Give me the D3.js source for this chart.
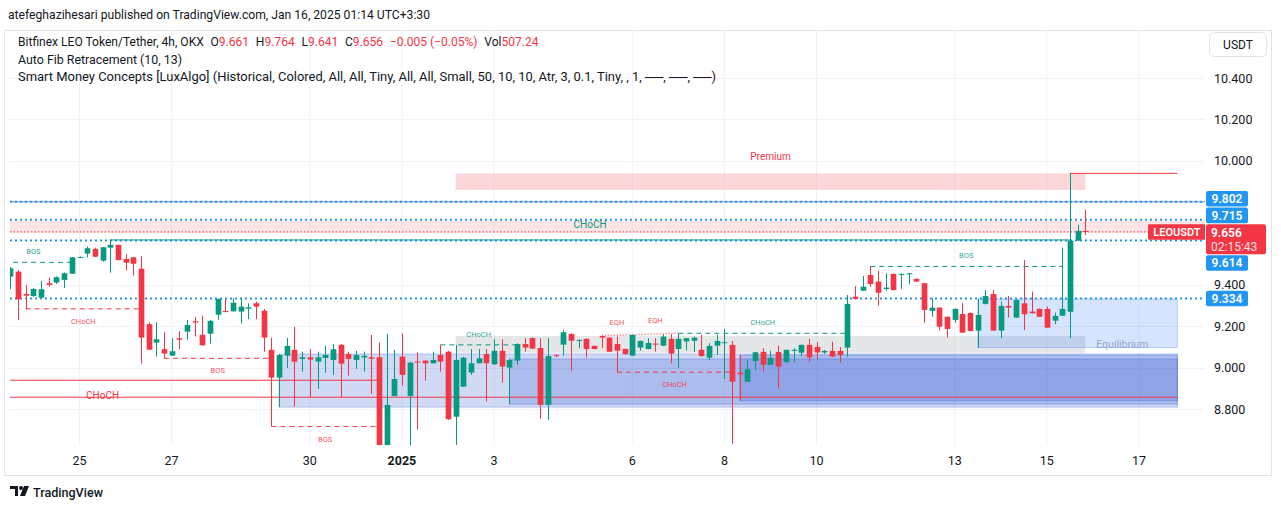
<!DOCTYPE html>
<html><head><meta charset="utf-8">
<script src="https://cdn.jsdelivr.net/npm/d3@7"></script>
<style>
body{margin:0;background:#fff;}
svg{display:block;font-family:Roboto,"Liberation Sans",sans-serif;}
</style>
</head><body>
<svg id="chart" width="1281" height="509"></svg>
<script>
// ---------------- DATA ----------------
const firstBarUtc = Date.UTC(2024, 11, 23, 12); // 4h bars
const barHours = 4;
const opens = [9.440,9.464,9.356,9.346,9.338,9.408,9.411,9.424,9.454,9.533,
9.551,9.574,9.517,9.580,9.593,9.525,9.533,9.478,9.210,9.121,
9.089,9.058,9.142,9.174,9.224,9.159,9.164,9.256,9.274,9.272,
9.271,9.285,9.311,9.275,9.086,8.952,9.058,9.086,9.042,9.050,
9.029,9.047,9.037,9.110,9.065,9.037,9.049,9.050,9.050,8.620,
8.863,9.053,8.863,9.029,9.034,9.021,9.061,9.077,8.763,8.908,
8.976,9.021,9.066,9.016,9.081,9.000,9.034,9.114,9.143,9.095,
8.820,9.060,9.111,9.163,9.130,9.139,9.105,9.153,9.145,9.114,
9.090,9.058,9.097,9.090,9.116,9.106,9.139,9.090,9.127,9.130,
9.086,9.048,9.106,9.118,9.110,8.976,8.932,9.032,9.076,9.014,
9.076,9.027,9.082,9.072,9.110,9.100,9.073,9.081,9.081,9.097,
9.343,9.372,9.448,9.416,9.380,9.453,9.448,9.453,9.429,9.408,
9.274,9.290,9.246,9.230,9.259,9.264,9.179,9.308,9.356,9.179,
9.298,9.242,9.311,9.271,9.284,9.284,9.227,9.251,9.270,9.614,
9.661];
const highs = [9.487,9.472,9.400,9.385,9.419,9.435,9.441,9.460,9.535,9.537,
9.586,9.580,9.583,9.617,9.595,9.548,9.535,9.540,9.219,9.219,
9.171,9.142,9.176,9.230,9.245,9.251,9.230,9.334,9.332,9.336,
9.336,9.311,9.319,9.284,9.145,9.066,9.145,9.198,9.077,9.090,
9.077,9.106,9.114,9.114,9.077,9.081,9.077,9.158,9.121,9.163,
9.086,9.166,9.029,9.074,9.035,9.077,9.110,9.081,9.110,9.052,
9.090,9.090,9.090,9.137,9.137,9.042,9.117,9.142,9.146,9.142,
9.142,9.064,9.182,9.165,9.135,9.141,9.107,9.155,9.146,9.150,
9.093,9.159,9.131,9.142,9.142,9.161,9.161,9.166,9.143,9.150,
9.158,9.118,9.159,9.187,9.129,9.061,9.037,9.076,9.094,9.081,
9.106,9.087,9.094,9.112,9.139,9.123,9.085,9.125,9.099,9.351,
9.395,9.443,9.491,9.469,9.456,9.455,9.455,9.458,9.431,9.409,
9.335,9.291,9.247,9.286,9.311,9.267,9.332,9.375,9.375,9.319,
9.346,9.329,9.520,9.367,9.286,9.295,9.266,9.580,9.939,9.690,
9.764];
const lows = [9.379,9.230,9.282,9.342,9.337,9.391,9.404,9.384,9.453,9.530,
9.532,9.535,9.512,9.459,9.518,9.469,9.445,9.019,9.085,9.053,
9.045,9.056,9.089,9.134,9.150,9.107,9.116,9.232,9.267,9.271,
9.214,9.234,9.234,9.077,8.715,8.809,8.999,8.811,8.981,8.857,
8.897,8.976,8.965,8.857,8.961,8.994,8.981,8.873,8.600,8.600,
8.861,8.912,8.621,8.702,8.937,9.020,8.981,8.747,8.623,8.906,
8.965,9.020,8.836,9.013,8.927,8.823,9.013,9.077,9.090,8.752,
8.747,9.052,9.058,8.985,9.094,9.049,9.088,9.095,9.076,8.978,
9.061,9.056,9.082,9.088,9.077,9.105,9.021,8.999,9.083,9.076,
9.053,9.037,9.061,8.945,8.630,8.840,8.931,8.989,8.981,9.013,
8.898,9.023,9.027,9.054,9.029,9.040,9.066,9.050,9.024,9.053,
9.330,9.371,9.391,9.300,9.372,9.373,9.380,9.403,9.414,9.217,
9.246,9.179,9.145,9.217,9.168,9.175,9.097,9.305,9.177,9.142,
9.242,9.240,9.182,9.262,9.245,9.192,9.210,9.250,9.142,9.612,
9.641];
const closes = [9.480,9.330,9.348,9.380,9.379,9.400,9.437,9.456,9.533,9.535,
9.577,9.536,9.582,9.593,9.520,9.507,9.502,9.145,9.087,9.137,
9.068,9.079,9.135,9.206,9.218,9.108,9.226,9.332,9.269,9.314,
9.295,9.292,9.295,9.145,8.952,9.061,9.105,9.029,9.050,9.039,
9.050,9.061,9.089,9.019,9.042,9.061,9.057,9.043,8.620,8.820,
8.945,8.965,9.024,9.024,9.021,9.037,9.029,8.751,9.037,9.048,
9.021,9.045,9.021,9.081,9.005,9.037,9.114,9.097,9.092,8.820,
9.056,9.056,9.171,9.130,9.134,9.090,9.090,9.145,9.077,9.082,
9.066,9.158,9.129,9.119,9.113,9.150,9.068,9.139,9.142,9.145,
9.056,9.105,9.129,9.123,8.932,8.968,8.992,9.074,9.014,9.047,
9.005,9.086,9.086,9.110,9.049,9.073,9.081,9.054,9.061,9.308,
9.332,9.391,9.404,9.362,9.387,9.375,9.453,9.456,9.416,9.279,
9.290,9.198,9.187,9.284,9.169,9.177,9.255,9.346,9.179,9.298,
9.290,9.327,9.258,9.263,9.246,9.193,9.250,9.284,9.614,9.661,
9.656];

const priceTicks = [8.8, 9.0, 9.2, 9.4, 9.6, 9.8, 10.0, 10.2, 10.4];
const dateTicks = [[2024,11,25],[2024,11,27],[2024,11,30],[2025,0,1],[2025,0,3],[2025,0,6],[2025,0,8],[2025,0,10],[2025,0,13],[2025,0,15],[2025,0,17]];
const dateTickLabels = ["25","27","30","2025","3","6","8","10","13","15","17"];

// Auto Fib levels shown as dotted lines + axis badges
const fibLevels = [9.802, 9.715, 9.614, 9.334];
const lastPrice = 9.656;
const countdown = "02:15:43";

// Smart Money Concepts structure: [fromBar, toBar, price, side, scope, label]
const structures = [
  [-2, 8, 9.509, "bull", "internal", "BOS"],
  [2, 17, 9.284, "bear", "internal", "CHoCH"],
  [20, 34, 9.045, "bear", "internal", "BOS"],
  [34, 48, 8.715, "bear", "internal", "BOS"],
  [-24, 48, 8.939, "bear", "swing", "CHoCH"],
  [13, 138, 9.617, "bull", "swing", "CHoCH"],
  [56, 66, 9.110, "bull", "internal", "CHoCH"],
  [79, 94, 8.978, "bear", "internal", "CHoCH"],
  [87, 109, 9.166, "bull", "internal", "CHoCH"],
  [112, 137, 9.489, "bull", "internal", "BOS"]
];
// Equal highs: [fromBar, fromPrice, toBar, toPrice]
const equalHighs = [[77, 9.155, 81, 9.159], [81, 9.159, 87, 9.166]];
// Order blocks: [fromBar, bottom, top, scope]
const orderBlocks = [
  [35, 8.809, 9.066, "swing"],
  [65, 8.823, 9.042, "swing"],
  [95, 8.840, 9.061, "swing"],
  [126, 9.097, 9.332, "internal"]
];
const obEndBar = 152;
// Zones: [fromBar, toBar, bottom, top, name]
const zones = [[58, 140, 9.859, 9.939, "Premium"], [58, 140, 9.072, 9.153, "Equilibrium"]];
// trailing extremes: [fromBar, price]
const trailing = [[138, 9.939], [-30, 8.857]];
const pinkBand = [9.652, 9.710];
const fibBaseLine = 9.802;

// legend strings
const headerText = "atefeghazihesari published on TradingView.com, Jan 16, 2025 01:14 UTC+3:30";
const legendSegments = [["Bitfinex LEO Token/Tether, 4h, OKX", "t"], ["O", "t"], ["9.661", "v"], ["H", "t"], ["9.764", "v"],
 ["L", "t"], ["9.641", "v"], ["C", "t"], ["9.656", "v"], ["\u22120.005 (\u22120.05%)", "v"], ["Vol", "t"], ["507.24", "v"]];
const legendLine2 = "Auto Fib Retracement (10, 13)";
const legendLine3 = "Smart Money Concepts [LuxAlgo] (Historical, Colored, All, All, Tiny, All, All, Small, 50, 10, 10, Atr, 3, 0.1, Tiny, , 1, \u2500\u2500, \u2500\u2500, \u2500\u2500)";

// ---------------- LAYOUT ----------------
const W = 1281, H = 509;
const plot = {l: 10, r: 1205, t: 30, b: 445};
const bull = "#089981", bear = "#f23645", text = "#131722";
const svg = d3.select("#chart");

const barTime = i => new Date(firstBarUtc + i * barHours * 3600e3);
const x = d3.scaleUtc()
  .domain([new Date(Date.UTC(2024,11,25)), new Date(Date.UTC(2025,0,17))])
  .range([79.5, 1139]);
const y = d3.scaleLinear().domain([8.8, 10.4]).range([409, 78]);
const bx = i => x(barTime(i));
const barW = (bx(1) - bx(0)) * 0.74;

svg.append("rect").attr("width", W).attr("height", H).attr("fill", "#fff");

// header
svg.append("text").attr("x", 8).attr("y", 19).attr("font-size", 13).attr("fill", text)
  .attr("textLength", 422).attr("lengthAdjust", "spacingAndGlyphs").text(headerText);

// chart frame
svg.append("rect").attr("x", 4.5).attr("y", 30.5).attr("width", 1267).attr("height", 445)
  .attr("fill", "none").attr("stroke", "#e0e3eb");

const defs = svg.append("defs");
defs.append("clipPath").attr("id", "plotClip").append("rect")
  .attr("x", plot.l).attr("y", plot.t).attr("width", plot.r - plot.l).attr("height", plot.b - plot.t);

const g = svg.append("g").attr("clip-path", "url(#plotClip)");

// grid
const dates = dateTicks.map(d => new Date(Date.UTC(d[0], d[1], d[2])));
g.selectAll(".vg").data(dates).join("line")
  .attr("x1", d => x(d)).attr("x2", d => x(d)).attr("y1", plot.t).attr("y2", plot.b)
  .attr("stroke", "#f0f3fa").attr("stroke-width", 1);
g.selectAll(".hg").data(priceTicks).join("line")
  .attr("x1", plot.l).attr("x2", plot.r).attr("y1", d => Math.round(y(d)) + 0.5).attr("y2", d => Math.round(y(d)) + 0.5)
  .attr("stroke", "#f0f3fa");

// pink band
g.append("rect").attr("x", plot.l).attr("width", plot.r - plot.l)
  .attr("y", y(pinkBand[1])).attr("height", y(pinkBand[0]) - y(pinkBand[1]))
  .attr("fill", "rgba(242,54,69,0.13)");

// zones
zones.forEach(z => {
  const isP = z[4] === "Premium";
  g.append("rect").attr("x", bx(z[0])).attr("width", bx(z[1]) - bx(z[0]))
    .attr("y", y(z[3])).attr("height", y(z[2]) - y(z[3]))
    .attr("fill", isP ? "rgba(242,54,69,0.2)" : "rgba(135,139,148,0.22)");
  if (isP) {
    g.append("text").attr("x", (bx(z[0]) + bx(z[1])) / 2).attr("y", y(z[3]) - 13)
      .attr("text-anchor", "middle").attr("font-size", 10).attr("fill", bear).text(z[4]);
  } else {
    g.append("text").attr("x", bx(z[1]) + 11).attr("y", (y(z[2]) + y(z[3])) / 2 + 4)
      .attr("font-size", 10.5).attr("fill", "#b2b5be").text(z[4]);
  }
});

// order blocks
orderBlocks.forEach(o => {
  const sw = o[3] === "swing";
  g.append("rect").attr("x", bx(o[0])).attr("width", bx(obEndBar) - bx(o[0]))
    .attr("y", y(o[2])).attr("height", y(o[1]) - y(o[2]))
    .attr("fill", sw ? "rgba(24,72,204,0.2)" : "rgba(49,121,245,0.2)")
    .attr("stroke", sw ? "rgba(24,72,204,0.25)" : "rgba(49,121,245,0.3)");
});

// trailing extremes
trailing.forEach(t => {
  g.append("line").attr("x1", bx(t[0])).attr("x2", bx(obEndBar))
    .attr("y1", y(t[1])).attr("y2", y(t[1])).attr("stroke", bear).attr("stroke-width", 1);
});

// fib base line + dotted fib lines
g.append("line").attr("x1", plot.l).attr("x2", plot.r).attr("y1", y(fibBaseLine)).attr("y2", y(fibBaseLine))
  .attr("stroke", "#7e8bbf").attr("stroke-width", 1);
g.selectAll(".fib").data(fibLevels).join("line")
  .attr("x1", plot.l).attr("x2", plot.r).attr("y1", d => y(d)).attr("y2", d => y(d))
  .attr("stroke", "#2196f3").attr("stroke-width", 2).attr("stroke-dasharray", "2,3");

// structures
structures.forEach(s => {
  const col = s[3] === "bull" ? bull : bear;
  const internal = s[4] === "internal";
  const yy = y(s[2]);
  g.append("line").attr("x1", bx(s[0])).attr("x2", bx(s[1])).attr("y1", yy).attr("y2", yy)
    .attr("stroke", col).attr("stroke-width", 1).attr("stroke-dasharray", internal ? "5,4" : null);
  const off = internal ? 12 : 16;
  g.append("text").attr("x", (bx(s[0]) + bx(s[1])) / 2)
    .attr("y", s[3] === "bull" ? yy - off + 4 : yy + off + 3)
    .attr("text-anchor", "middle").attr("font-size", internal ? 7.5 : 10)
    .attr("fill", col).attr("opacity", internal ? 0.85 : 1).text(s[5]);
});
equalHighs.forEach(e => {
  g.append("line").attr("x1", bx(e[0])).attr("x2", bx(e[2])).attr("y1", y(e[1])).attr("y2", y(e[3]))
    .attr("stroke", "rgba(242,54,69,0.55)").attr("stroke-width", 1.5).attr("stroke-dasharray", "1.5,1.5");
  g.append("text").attr("x", (bx(e[0]) + bx(e[2])) / 2).attr("y", Math.min(y(e[1]), y(e[3])) - 10)
    .attr("text-anchor", "middle").attr("font-size", 7.5).attr("fill", bear).attr("opacity", 0.85).text("EQH");
});

// current price line
g.append("line").attr("x1", plot.l).attr("x2", plot.r).attr("y1", y(lastPrice)).attr("y2", y(lastPrice))
  .attr("stroke", bear).attr("stroke-width", 1).attr("stroke-dasharray", "1.5,2");

// candles
const idx = d3.range(opens.length);
const cg = g.append("g");
cg.selectAll(".wick").data(idx).join("line")
  .attr("x1", i => Math.round(bx(i)) + 0.5).attr("x2", i => Math.round(bx(i)) + 0.5)
  .attr("y1", i => y(highs[i])).attr("y2", i => y(lows[i]))
  .attr("stroke", i => closes[i] >= opens[i] ? bull : bear);
cg.selectAll(".body").data(idx).join("rect")
  .attr("x", i => Math.round(bx(i)) + 0.5 - barW / 2).attr("width", barW)
  .attr("y", i => y(Math.max(opens[i], closes[i])))
  .attr("height", i => Math.max(1, Math.abs(y(opens[i]) - y(closes[i]))))
  .attr("fill", i => closes[i] >= opens[i] ? bull : bear);

// symbol label
g.append("rect").attr("x", 1148).attr("y", y(lastPrice) - 7.7).attr("width", 60).attr("height", 15.5)
  .attr("fill", bear).attr("rx", 1);
svg.append("text").attr("x", 1177).attr("y", y(lastPrice) + 4).attr("text-anchor", "middle")
  .attr("font-size", 11).attr("font-weight", 600).attr("fill", "#fff").text("LEOUSDT");

// time axis
svg.selectAll(".tl").data(dates).join("text")
  .attr("x", d => x(d)).attr("y", 465).attr("text-anchor", "middle")
  .attr("font-size", 12.5).attr("fill", text)
  .attr("font-weight", (d, i) => dateTickLabels[i] === "2025" ? 700 : 400)
  .text((d, i) => dateTickLabels[i]);

// badges with collision layout
const bh = 15.6, gap = 1;
const redTop = y(lastPrice) - 7.7, redBot = redTop + 30;
const above = fibLevels.filter(v => v > lastPrice).sort((a, b) => a - b);
const below = fibLevels.filter(v => v < lastPrice).sort((a, b) => b - a);
const badges = [];
let limit = redTop - gap;
above.forEach(v => { let bot = Math.min(y(v) + bh / 2, limit); badges.push([v, bot - bh]); limit = bot - bh - gap; });
limit = redBot + gap;
below.forEach(v => { let top = Math.max(y(v) - bh / 2, limit); badges.push([v, top]); limit = top + bh + gap; });
const occupied = badges.map(b => [b[1], b[1] + bh]).concat([[redTop, redBot]]);

// price axis (labels hidden where a badge covers them)
const visibleTicks = priceTicks.filter(v => {
  const c = y(v);
  return !occupied.some(o => c + 5 > o[0] && c - 5 < o[1]);
});
svg.selectAll(".pl").data(visibleTicks).join("text")
  .attr("x", 1214).attr("y", d => y(d) + 4.5).attr("font-size", 12.5).attr("fill", text)
  .text(d => d.toFixed(3));

// USDT button
svg.append("rect").attr("x", 1209.5).attr("y", 32.5).attr("width", 57).attr("height", 24).attr("rx", 5)
  .attr("fill", "#fff").attr("stroke", "#e0e3eb");
svg.append("text").attr("x", 1238).attr("y", 49).attr("text-anchor", "middle").attr("font-size", 12)
  .attr("fill", text).text("USDT");

badges.forEach(b => {
  svg.append("rect").attr("x", 1206).attr("y", b[1]).attr("width", 42).attr("height", bh).attr("rx", 2).attr("fill", "#2196f3");
  svg.append("text").attr("x", 1227).attr("y", b[1] + 12).attr("text-anchor", "middle").attr("font-size", 12)
    .attr("font-weight", 600).attr("fill", "#fff").text(b[0].toFixed(3));
});
svg.append("rect").attr("x", 1206).attr("y", redTop).attr("width", 60).attr("height", 30).attr("rx", 2).attr("fill", bear);
svg.append("text").attr("x", 1211).attr("y", redTop + 12.5).attr("font-size", 12).attr("font-weight", 600).attr("fill", "#fff").text(lastPrice.toFixed(3));
svg.append("text").attr("x", 1211).attr("y", redTop + 26.5).attr("font-size", 12).attr("fill", "#fff").attr("opacity", 0.85).text(countdown);

// legend line 1: separate text pieces laid out one after another, scaled to the target width
const legFont = 12.5, targetW = 521;
const pieces = legendSegments.map((p, i) => svg.append("text").attr("y", 46).attr("font-size", legFont)
  .attr("fill", p[1] === "v" ? bear : text).text(p[0]));
const gapAfter = legendSegments.map((p, i) => {
  const nxt = legendSegments[i + 1];
  if (!nxt) return 0;
  return (nxt[1] === "v" && p[1] === "t" && p[0].length <= 3) ? 0 : 7;
});
let total = 0;
pieces.forEach((t, i) => { total += t.node().getComputedTextLength() + gapAfter[i]; });
const k = targetW / total;
let cx = 18;
pieces.forEach((t, i) => {
  t.attr("font-size", legFont * k).attr("x", cx);
  cx += t.node().getComputedTextLength() + gapAfter[i] * k;
});
svg.append("text").attr("x", 18).attr("y", 63.5).attr("font-size", 12.5).attr("fill", text)
  .attr("textLength", 164).attr("lengthAdjust", "spacingAndGlyphs").text(legendLine2);
svg.append("text").attr("x", 18).attr("y", 81).attr("font-size", 12.5).attr("fill", text)
  .attr("textLength", 698).attr("lengthAdjust", "spacingAndGlyphs").text(legendLine3);

// TradingView logo
const logo = svg.append("g").attr("transform", "translate(10,486)").attr("fill", text);
logo.append("path").attr("d", "M0 0H8V10H5V3H0Z");
logo.append("circle").attr("cx", 11).attr("cy", 2).attr("r", 2);
logo.append("path").attr("d", "M14 0H19L15 10H10Z");
svg.append("text").attr("x", 33).attr("y", 497).attr("font-size", 13).attr("font-weight", 500)
  .attr("fill", text).attr("textLength", 70).attr("lengthAdjust", "spacingAndGlyphs").text("TradingView");
</script>
</body></html>
